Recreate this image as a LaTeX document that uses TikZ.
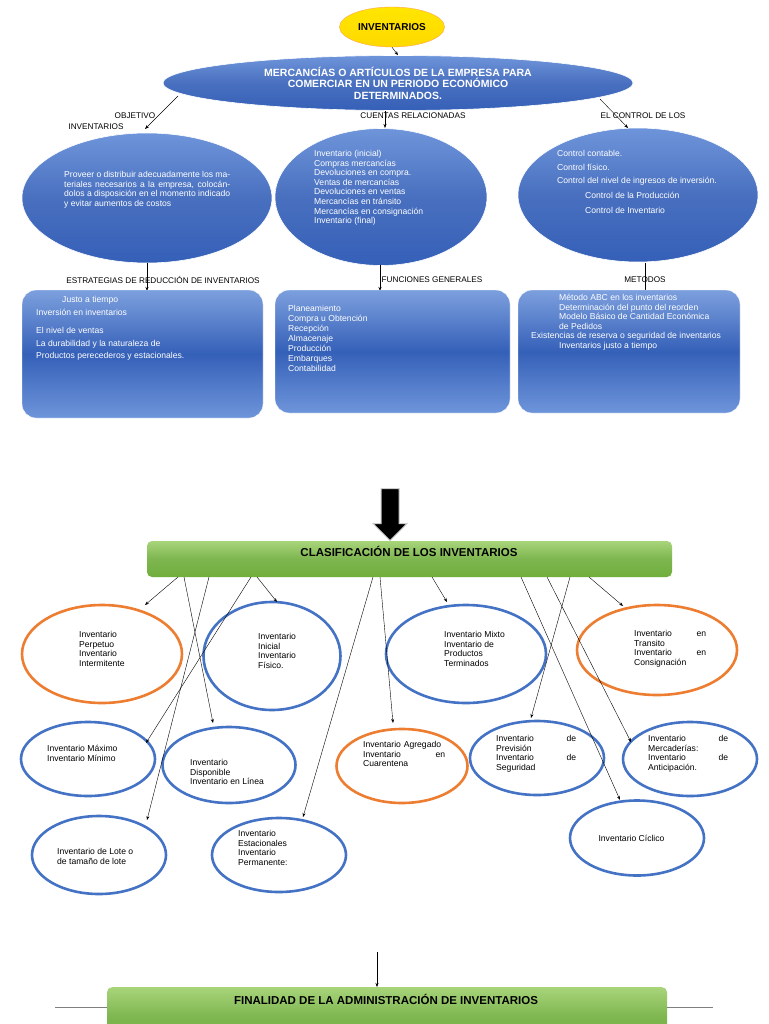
\documentclass[tikz,border=0pt]{standalone}
\usepackage{fontspec}
\setmainfont{Liberation Sans}
\newfontfamily\nar{Liberation Sans}
\usetikzlibrary{shapes.geometric,arrows.meta,shapes.arrows}
\definecolor{bdark}{HTML}{3560B8}
\definecolor{blite}{HTML}{6E95DA}
\definecolor{bline}{HTML}{4472C4}
\definecolor{oline}{HTML}{ED7D31}
\definecolor{gtop}{HTML}{A8D47A}
\definecolor{gbot}{HTML}{6FAE3C}
\newcommand\tf{\nar\fontsize{8.6}{9.6}\selectfont}
\tikzset{
 bell/.style={ellipse,draw=white,line width=0.6pt,top color=blite,bottom color=bdark,middle color=bdark!90,text=white,inner sep=0},
 bbox/.style={rounded corners=14pt,draw=white,top color=blite!90,bottom color=blite,middle color=bdark,text=white},
 ring/.style={ellipse,draw=bline,line width=2.6pt,fill=white,inner sep=0},
 oring/.style={ring,draw=oline},
 txt/.style={font=\tf,inner sep=0,align=left,anchor=north west},
 wtxt/.style={txt,text=white},
 lab/.style={font=\nar\fontsize{8.2}{9}\selectfont,inner sep=0},
 arr/.style={-{Stealth[length=4pt,width=3pt]},line width=0.4pt},
 gbar/.style={rounded corners=5pt,top color=gtop,bottom color=gbot,middle color=gbot!90},
 gtitle/.style={font=\nar\bfseries\fontsize{11.5}{13}\selectfont}
}
\begin{document}
\begin{tikzpicture}[x=1pt,y=-1pt]
\useasboundingbox[fill=white] (0,0) rectangle (768,1024);
% top
\node[ellipse,minimum width=100,minimum height=40,draw=orange!70,top color=yellow!80!orange,bottom color=yellow!70!orange,font=\nar\bfseries\fontsize{10}{11}\selectfont] (inv) at (392,27) {INVENTARIOS};
\node[bell,minimum width=470,minimum height=55,align=center,font=\nar\bfseries\fontsize{10.5}{11.5}\selectfont] (merc) at (398,83) {MERCANCÍAS O ARTÍCULOS DE LA EMPRESA PARA\\COMERCIAR EN UN PERIODO ECONÓMICO\\DETERMINADOS.};
\draw[arr] (inv.south) -- (merc.north);
\node[lab] (l1) at (135,116) {OBJETIVO};
\node[lab] (l1b) at (96,127) {INVENTARIOS};
\node[lab] (l2) at (413,116) {CUENTAS RELACIONADAS};
\node[lab] (l3) at (643,116) {EL CONTROL DE LOS};
\node[bell,minimum width=250,minimum height=130] (e1) at (147,198) {};
\node[bell,minimum width=212,minimum height=137] (e2) at (381,197) {};
\node[bell,minimum width=240,minimum height=134] (e3) at (638,195) {};
\coordinate (m1) at (178,96); \coordinate (m3) at (600,99);
\draw[arr] (m1) -- (145,129);
\draw[arr] (385,111) -- (385,128);
\draw[arr] (m3) -- (628,128);
\node[wtxt,text width=166,align=justify] at (64,171) {Proveer o distribuir adecuadamente los materiales necesarios a la empresa, colocándolos a disposición en el momento indicado y evitar aumentos de costos};
\node[wtxt] at (314,150) {Inventario (inicial)\\Compras mercancías\\Devoluciones en compra.\\Ventas de mercancías\\Devoluciones en ventas\\Mercancías en tránsito\\Mercancías en consignación\\Inventario (final)};
\node[wtxt,text width=160,align=justify] at (557,150) {Control contable.\\[4pt]Control físico.\\[4pt]Control del nivel de ingresos de inversión.\\[5pt]\hspace*{28pt}Control de la Producción\\[6pt]\hspace*{28pt}Control de Inventario};
% second level
\node[lab] (s1) at (163,280) {ESTRATEGIAS DE REDUCCIÓN DE INVENTARIOS};
\node[lab] (s2) at (432,280) {FUNCIONES GENERALES};
\node[lab] (s3) at (645,280) {METODOS};
\draw[arr] (e1.south) -- (147,291);
\draw[arr] (380,265) -- (380,291);
\draw[line width=0.4pt] (645,263) -- (645,291);
\node[bbox,minimum width=241,minimum height=128] (b1) at (142.5,354) {};
\node[bbox,minimum width=235,minimum height=123] (b2) at (392.5,351.5) {};
\node[bbox,minimum width=222,minimum height=123] (b3) at (629,351.5) {};
\node[wtxt] at (36,296) {\hspace*{26pt}Justo a tiempo\\[3pt]Inversión en inventarios\\[9pt]El nivel de ventas\\[3pt]La durabilidad y la naturaleza de\\[3pt]Productos perecederos y estacionales.};
\node[wtxt,font=\nar\fontsize{8.6}{10}\selectfont] at (288,305) {Planeamiento\\Compra u Obtención\\Recepción\\Almacenaje\\Producción\\Embarques\\Contabilidad};
\node[wtxt,align=justify,text width=196] at (531,294) {\hspace*{28pt}Método ABC en los inventarios\\\hspace*{28pt}Determinación del punto del reorden\\\hspace*{28pt}Modelo Básico de Cantidad Económica\\\hspace*{28pt}de Pedidos\\Existencias de reserva o seguridad de inventarios\\\hspace*{28pt}Inventarios justo a tiempo};
% block arrow
\node[single arrow,shape border rotate=270,fill=black,draw=gray!40,line width=1pt,minimum height=52,minimum width=34,single arrow head extend=4pt,inner sep=4pt] (ba) at (390,510) {};
\node[gbar,minimum width=525,minimum height=36] (cls) at (409.5,559) {};
\node[gtitle] at (409,551) {CLASIFICACIÓN DE LOS INVENTARIOS};
% ellipses
\node[oring,minimum width=160,minimum height=98] (c1) at (102,654) {};
\node[txt] at (79,631) {Inventario\\Perpetuo\\Inventario\\Intermitente};
\node[ring,minimum width=137,minimum height=108] (c2) at (272,656) {};
\node[txt] at (258,633) {Inventario\\Inicial\\Inventario\\Físico.};
\node[ring,minimum width=160,minimum height=98] (c3) at (466,654) {};
\node[txt] at (444,631) {Inventario Mixto\\Inventario de\\Productos\\Terminados};
\node[oring,minimum width=160,minimum height=90] (c4) at (657,650) {};
\node[txt,text width=72] at (634,630) {Inventario\hfill en\\Transito\\Inventario\hfill en\\Consignación};
\node[ring,minimum width=134,minimum height=74] (c5) at (88,759) {};
\node[txt] at (47,745) {Inventario Máximo\\Inventario Mínimo};
\node[ring,minimum width=133,minimum height=76] (c6) at (229,765) {};
\node[txt] at (190,759) {Inventario\\Disponible\\Inventario en Línea};
\node[oring,minimum width=131,minimum height=74] (c7) at (402,766) {};
\node[txt,text width=82] at (363,741) {Inventario Agregado\\Inventario\hfill en\\Cuarentena};
\node[ring,minimum width=134,minimum height=74] (c8) at (537,758) {};
\node[txt,text width=80] at (496,735) {Inventario\hfill de\\Previsión\\Inventario\hfill de\\Seguridad};
\node[ring,minimum width=134,minimum height=74] (c9) at (690,759) {};
\node[txt,text width=80] at (648,735) {Inventario\hfill de\\Mercaderías:\\Inventario\hfill de\\Anticipación.};
\node[ring,minimum width=134,minimum height=78] (c10) at (99,855) {};
\node[txt] at (57,848) {Inventario de Lote o\\de tamaño de lote};
\node[ring,minimum width=134,minimum height=74] (c11) at (279,855) {};
\node[txt] at (238,830) {Inventario\\Estacionales\\Inventario\\Permanente:};
\node[ring,minimum width=134,minimum height=75] (c12) at (637,838) {};
\node[font=\tf,anchor=west] at (595,838) {Inventario Cíclico};
% connectors from bar
\draw[arr] (178,577) -- (145,605);
\draw[arr] (184,577) -- (213,723);
\draw[arr] (209,577) -- (147,820);
\draw[arr] (251,577) -- (146,743);
\draw[arr] (257,577) -- (277,602);
\draw[arr] (373,577) -- (303,817);
\draw[arr] (380,577) -- (393,723);
\draw[arr] (432,577) -- (447,602);
\draw[arr] (521,577) -- (620,800);
\draw[arr] (547,577) -- (631,742);
\draw[arr] (570,577) -- (531,718);
\draw[arr] (589,577) -- (623,606);
% bottom
\node[gbar,minimum width=560,minimum height=60,anchor=north] (fin) at (387,987) {};
\node[gtitle] at (386,999) {FINALIDAD DE LA ADMINISTRACIÓN DE INVENTARIOS};
\coordinate (top) at (377,952);
\draw[arr] (top) -- (377,987);
\draw[line width=0.4pt,gray] (55,1007) -- (107,1007) (667,1007) -- (713,1007);
\end{tikzpicture}
\end{document}
